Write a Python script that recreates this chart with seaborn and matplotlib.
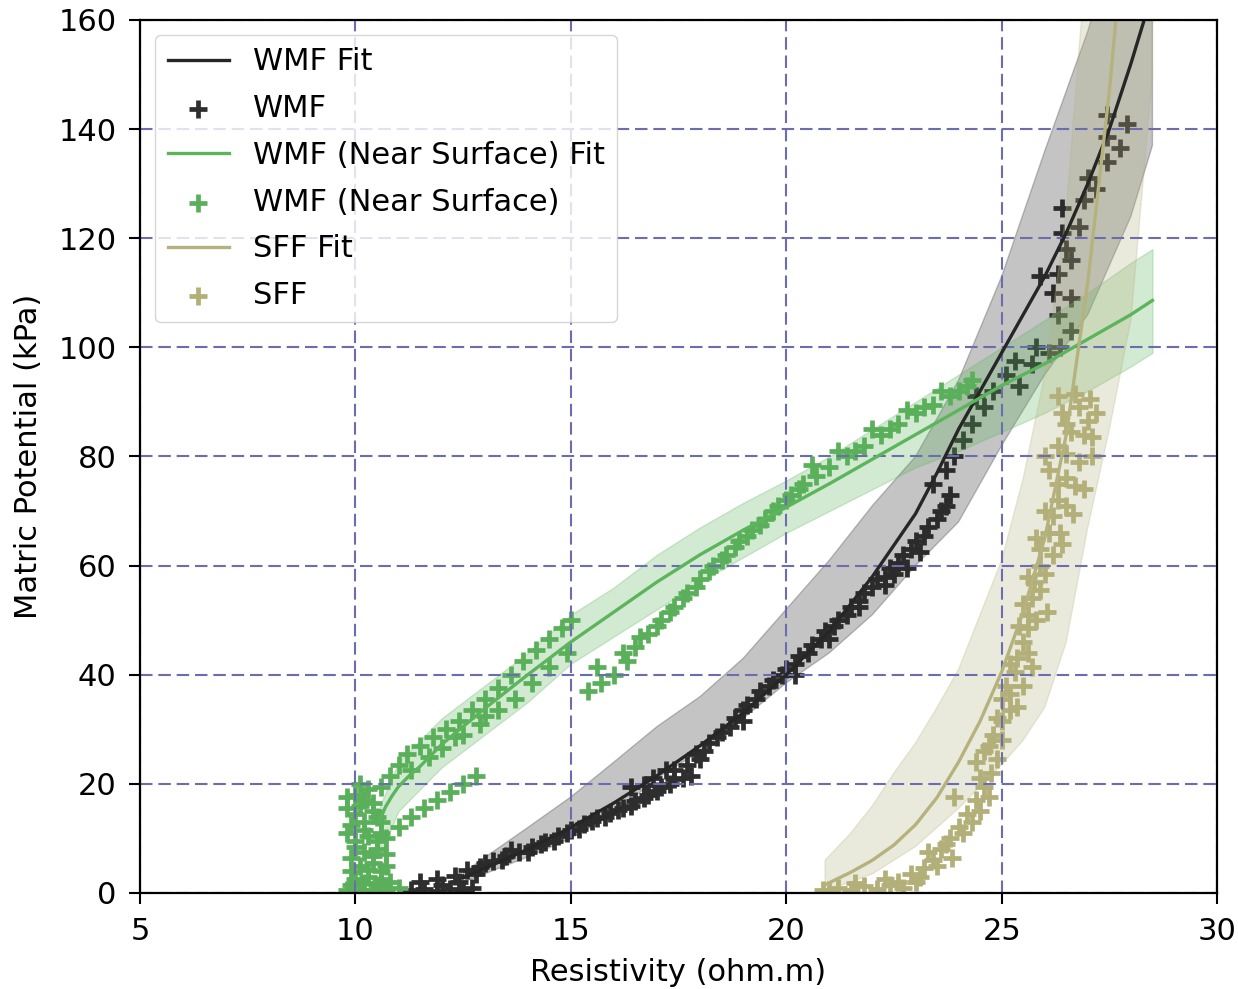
import numpy as np
import matplotlib
matplotlib.use("Agg")
import matplotlib.pyplot as plt
import seaborn as sns

### data
# WMF measurements (resistivity, matric potential)
wmf_x = [11.3, 11.6, 11.9, 12.2, 12.5, 12.7, 11.5, 11.9, 12.3, 12.6,
         12.9, 13.2, 13.5, 13.8, 14.1, 14.4, 14.7, 15.0, 15.3, 15.6,
         15.9, 16.2, 16.5, 16.8, 17.1, 17.4, 16.4, 16.9, 17.4, 17.8,
         17.7, 17.9, 18.2, 18.5, 18.8, 19.1, 19.4, 19.7, 20.0, 20.3,
         20.6, 20.9, 21.2, 21.5, 21.8, 22.1, 22.4, 22.7, 22.5, 22.8,
         18.0, 19.0, 20.2, 21.0, 21.7, 22.3, 23.1,
         12.0, 12.4, 12.8, 13.0, 13.4, 13.6, 14.0, 14.3, 14.6, 14.9,
         15.2, 15.5, 15.8, 16.1, 16.4, 16.7, 17.0, 17.3, 17.6, 17.2, 16.7,
         18.1, 18.4, 18.7, 19.0, 19.3, 19.6, 19.9, 20.2, 20.5, 20.8,
         21.1, 21.4, 21.7, 22.0, 22.3, 22.6, 22.9, 23.2, 23.5, 23.7,
         23.0, 23.3, 23.6, 23.8, 23.4, 23.7, 23.9, 24.1, 24.3, 24.6,
         24.4, 24.8, 25.1, 25.4, 25.3, 25.7, 25.8, 26.1, 26.35, 26.6,
         26.3, 26.6, 26.2, 25.9, 26.3, 26.6, 26.5, 26.4, 26.8, 26.4,
         26.9, 27.0, 27.2, 27.45, 27.75, 27.45, 27.45, 27.9]
wmf_y = [0.5, 0.8, 0.4, 0.8, 0.5, 1.0, 2.0, 2.5, 3.2, 4.2,
         4.8, 5.8, 6.8, 7.6, 8.4, 9.4, 10.5, 11.5, 12.6, 13.7,
         14.6, 15.6, 16.8, 18.0, 19.4, 20.8, 19.5, 21.0, 22.5, 21.5,
         23.5, 25.5, 27.5, 29.5, 32.0, 34.5, 37.0, 39.0, 41.0, 43.5,
         45.5, 48.0, 50.0, 52.5, 55.0, 57.5, 59.5, 62.0, 58.5, 59.5,
         24.5, 31.5, 40.0, 46.5, 52.5, 56.5, 62.5,
         1.5, 2.0, 3.5, 5.5, 6.0, 7.8, 7.5, 9.0, 9.6, 11.0,
         11.8, 13.2, 14.0, 15.2, 16.0, 17.4, 18.6, 20.0, 21.0, 22.5, 19.8,
         26.0, 28.5, 30.5, 33.5, 35.5, 38.0, 40.0, 42.0, 44.0, 46.5,
         49.0, 51.0, 53.5, 56.0, 58.0, 60.5, 63.0, 65.5, 68.5, 71.0,
         64.5, 67.0, 70.0, 73.0, 75.0, 77.5, 80.0, 83.0, 86.0, 89.0,
         91.0, 92.0, 95.0, 93.0, 97.5, 97.0, 100.0, 99.0, 100.0, 103.0,
         106.0, 109.0, 110.0, 113.0, 113.5, 116.0, 118.0, 121.0, 122.0, 125.5,
         127.0, 131.0, 129.0, 134.0, 136.5, 138.5, 142.5, 141.0]

# WMF (Near Surface) measurements
wmfns_x = [9.8, 10.1, 10.4, 10.7, 11.0, 10.0, 10.3, 10.6, 10.1, 10.4,
           10.7, 10.2, 10.5, 10.0, 10.3, 10.6, 9.9, 10.2, 10.5, 9.8,
           10.1, 10.4, 10.0, 10.3, 10.6, 10.1,
           9.9, 10.2, 10.5, 10.8, 9.9, 10.3, 10.6, 9.9, 10.4, 10.7,
           10.0, 10.5, 9.8, 10.2, 10.6, 10.0, 10.4, 9.8, 10.2,
           10.8, 11.0, 11.2, 11.5, 11.8, 12.1, 12.4, 12.7, 13.0, 13.3,
           13.6, 13.9, 14.2, 14.5, 14.8, 15.0, 12.3, 13.0,
           11.3, 11.7, 12.0, 12.5, 12.9, 13.3, 13.7, 14.1, 14.5, 14.9,
           10.7, 11.0, 11.3, 11.6, 11.9, 12.2, 12.5, 12.8,
           15.4, 15.7, 16.0, 15.6, 16.3, 16.5, 16.8, 17.1, 17.4, 17.7,
           18.0, 18.3, 18.6, 18.9, 19.2, 19.5, 19.8, 20.1, 20.4, 20.7,
           21.0, 21.4, 21.8, 22.2, 22.6, 23.0, 23.4, 23.8, 24.2, 24.3,
           20.6, 21.2, 22.0, 22.8, 23.6,
           16.2, 16.6, 17.0, 17.3, 17.6, 17.9, 18.2, 18.5, 18.8, 19.1,
           19.4, 19.7, 20.0, 20.3, 21.6, 22.4, 23.2, 24.0]
wmfns_y = [0.5, 0.5, 0.5, 0.5, 1.0, 2.5, 3.0, 2.5, 5.0, 5.5,
           5.0, 7.5, 8.0, 9.5, 10.5, 11.0, 12.5, 13.0, 14.0, 15.5,
           16.0, 16.5, 18.0, 19.0, 19.5, 20.0,
           1.5, 1.8, 1.5, 2.0, 4.0, 4.2, 4.0, 6.5, 6.8, 7.2,
           8.5, 9.5, 11.0, 11.5, 13.0, 14.5, 15.0, 17.5, 17.0,
           21.5, 23.5, 25.5, 27.0, 28.5, 30.0, 31.5, 33.5, 35.5, 37.5,
           40.0, 42.5, 44.5, 46.5, 48.5, 50.0, 28.5, 32.5,
           22.5, 25.0, 26.5, 29.0, 31.0, 33.5, 35.5, 38.5, 41.5, 44.0,
           10.0, 12.0, 14.0, 15.5, 17.0, 18.5, 20.0, 21.5,
           37.0, 38.5, 40.0, 41.5, 42.5, 45.0, 47.5, 50.0, 52.5, 55.0,
           57.5, 60.0, 62.0, 64.5, 66.5, 68.5, 71.0, 73.0, 75.0, 76.5,
           78.0, 80.0, 82.0, 84.0, 86.0, 88.0, 89.5, 91.0, 93.0, 94.0,
           78.5, 81.0, 85.0, 88.5, 92.0,
           44.0, 47.0, 49.0, 51.5, 54.0, 56.0, 59.0, 61.0, 63.5, 65.5,
           67.5, 70.0, 72.0, 74.0, 81.0, 85.0, 89.0, 92.0]

# SFF measurements
sff_x = [20.85, 21.2, 21.5, 21.8, 22.1, 22.4, 22.7, 23.0, 22.9, 23.2,
         23.4, 23.6, 23.8, 24.0, 23.85, 24.2, 24.4, 23.9, 24.6, 24.75,
         24.9, 24.6, 24.8, 25.0, 25.2, 25.0, 25.35, 25.1, 25.3, 25.7,
         25.35, 25.5, 25.6, 26.05, 25.6, 25.7, 25.75, 25.9, 25.9, 26.1,
         26.35, 26.2, 26.65, 26.3, 26.9, 26.1, 26.5, 26.8, 26.3, 27.1,
         26.6, 27.0, 26.4, 26.8, 26.7, 27.05,
         21.0, 21.6, 22.3, 22.6, 23.1, 23.5, 23.3, 23.7, 24.1, 24.3,
         24.5, 24.7, 24.5, 24.4, 24.7, 25.0, 24.9, 25.2, 25.5, 25.2,
         25.6, 25.4, 25.8, 25.5, 25.9, 25.6, 26.0, 26.2, 25.8, 26.4,
         26.0, 26.5, 26.3, 26.7, 26.0, 26.5, 27.1, 26.9, 26.5, 27.2, 26.3]
sff_y = [0.5, 1.0, 0.5, 1.2, 0.8, 1.5, 1.0, 2.0, 3.5, 4.5,
         6.0, 8.0, 10.0, 12.0, 6.5, 14.5, 17.0, 17.5, 19.5, 22.0,
         24.5, 26.0, 29.0, 31.5, 33.5, 35.5, 34.0, 38.0, 40.5, 41.5,
         43.0, 46.0, 48.5, 51.5, 51.0, 54.0, 57.0, 60.0, 63.0, 66.0,
         66.0, 69.0, 69.5, 72.0, 74.0, 77.5, 76.0, 79.0, 82.0, 83.5,
         84.5, 86.5, 88.0, 89.0, 91.5, 90.5,
         0.5, 1.8, 2.5, 2.0, 3.0, 5.0, 7.5, 9.0, 11.0, 13.0,
         15.0, 17.5, 21.0, 24.0, 27.0, 28.0, 32.0, 36.5, 38.0, 42.0,
         44.0, 49.0, 50.0, 53.0, 55.5, 58.0, 58.5, 62.0, 65.0, 64.0,
         70.0, 71.0, 75.0, 74.5, 80.0, 80.5, 80.0, 84.0, 86.0, 88.0, 91.0]

# fitted curves and their bands
wmf_fit_x = [12.5, 13, 14, 15, 16, 17, 18, 19, 20, 21, 22, 23, 23.5, 24,
             24.5, 25, 25.5, 26, 26.5, 27, 27.5, 28, 28.5]
wmf_fit_y = [2.8, 4.5, 8, 12, 16.5, 21.5, 27, 33, 40, 48, 58, 69.5, 77, 85,
             92, 99, 106, 113, 121, 130, 140, 152, 165]
wmf_band_x = [12.5, 13, 14, 15, 16, 17, 18, 19, 20, 21, 22, 23, 24, 25, 26, 27, 28, 28.5]
wmf_band_lo = [2, 3.5, 6.6, 10, 14.5, 21, 26, 32, 38.5, 44, 51, 60, 68, 82, 95, 106, 124, 137]
wmf_band_hi = [3.7, 6.5, 12, 17.6, 24, 30.5, 36, 43, 52, 61, 71, 80, 94, 113, 136, 158, 185, 200]

wmfns_fit_x = [10.57, 10.7, 10.85, 11, 11.25, 11.5, 12, 13, 14, 15, 16, 17, 18,
               19, 20, 21, 22, 23, 24, 25, 26, 27, 28, 28.5]
wmfns_fit_y = [13.4, 15.8, 17.8, 19.5, 21.5, 23.2, 27.2, 33.8, 40, 46, 51.5,
               57, 62, 66.5, 70.7, 75, 79.5, 84, 88.5, 93, 97, 101.5, 106, 108.6]
wmfns_band_x = [10.57, 11, 12, 13, 14, 15, 16, 17, 18, 19, 20, 21, 22, 23, 24,
                25, 26, 27, 28, 28.5]
wmfns_band_lo = [7, 15, 23, 29, 35, 42, 47, 52, 57, 61.5, 66, 70, 74, 78, 81,
                 84.5, 88, 92, 96.5, 99]
wmfns_band_hi = [16, 24, 32, 38, 44, 51, 56, 62, 67, 71.5, 75.6, 80, 85, 90, 95,
                 100, 105, 110, 115.5, 118]

sff_fit_x = [20.9, 21.5, 22, 22.5, 23, 23.5, 24, 24.5, 25, 25.5, 26, 26.5, 27,
             27.5, 28, 28.5]
sff_fit_y = [1.5, 3.8, 6.0, 8.8, 12.5, 17.5, 24, 31.5, 40.5, 51.5, 65, 84, 112,
             147, 190, 240]
sff_band_x = [20.9, 21.5, 22, 22.5, 23, 23.5, 24, 24.5, 25, 25.5, 26, 26.5, 27,
              27.5, 28, 28.5]
sff_band_lo = [0.5, 2, 3.5, 6, 8.5, 12, 15.5, 19.5, 23.5, 28, 34, 46, 67, 85, 105, 150]
sff_band_hi = [6, 11, 16, 22, 27.5, 34, 41, 51, 61, 76, 95, 125, 175, 230, 290, 350]

###~~~~~~~~~~~~~~~~~~~~~~~~~~~~~~~~~~~~~~~~~~~~~~~~~~~~~~~~~~~~~~~~~~~~~~~~~~~~
def plot_group(ax, fx, fy, bx, blo, bhi, px, py, color, pcolor, name):
    """Fit line, measured points and the fit band for one sensor group."""
    sns.lineplot(x=fx, y=fy, color=color, linewidth=2.4, label=name + " Fit",
                 estimator=None, sort=False, legend=False, ax=ax)
    sns.scatterplot(x=px, y=py, marker="+", s=170, color=pcolor, linewidth=3.4,
                    label=name, legend=False, ax=ax)
    ax.fill_between(bx, blo, bhi, color=color, alpha=0.27, linewidth=1)


fig = plt.figure(figsize=(12.38, 9.89), dpi=100)
ax = fig.add_axes([0.1131, 0.0971, 0.8700, 0.8827])

plot_group(ax, wmf_fit_x, wmf_fit_y, wmf_band_x, wmf_band_lo, wmf_band_hi,
           wmf_x, wmf_y, "#262626", "#2e2e2e", "WMF")
plot_group(ax, wmfns_fit_x, wmfns_fit_y, wmfns_band_x, wmfns_band_lo, wmfns_band_hi,
           wmfns_x, wmfns_y, "#5cb45c", "#5aaf5a", "WMF (Near Surface)")
plot_group(ax, sff_fit_x, sff_fit_y, sff_band_x, sff_band_lo, sff_band_hi,
           sff_x, sff_y, "#b5b27e", "#b3af78", "SFF")

ax.set_xlim(5, 30)
ax.set_ylim(0, 160)
ax.set_xticks(np.arange(5, 31, 5))
ax.set_yticks(np.arange(0, 161, 20))
ax.tick_params(labelsize=22, length=8, width=1.5, pad=9)
for sp in ax.spines.values():
    sp.set_linewidth(1.6)

ax.grid(True, color="#6c6cb0", linestyle=(0, (6, 2.8)), linewidth=1.5)
ax.set_xlabel("Resistivity (ohm.m)", fontsize=22, labelpad=9)
ax.set_ylabel("Matric Potential (kPa)", fontsize=22, labelpad=11)

ax.legend(loc="upper left", fontsize=22, labelspacing=0.58)

fig.savefig("out.png", dpi=100)
